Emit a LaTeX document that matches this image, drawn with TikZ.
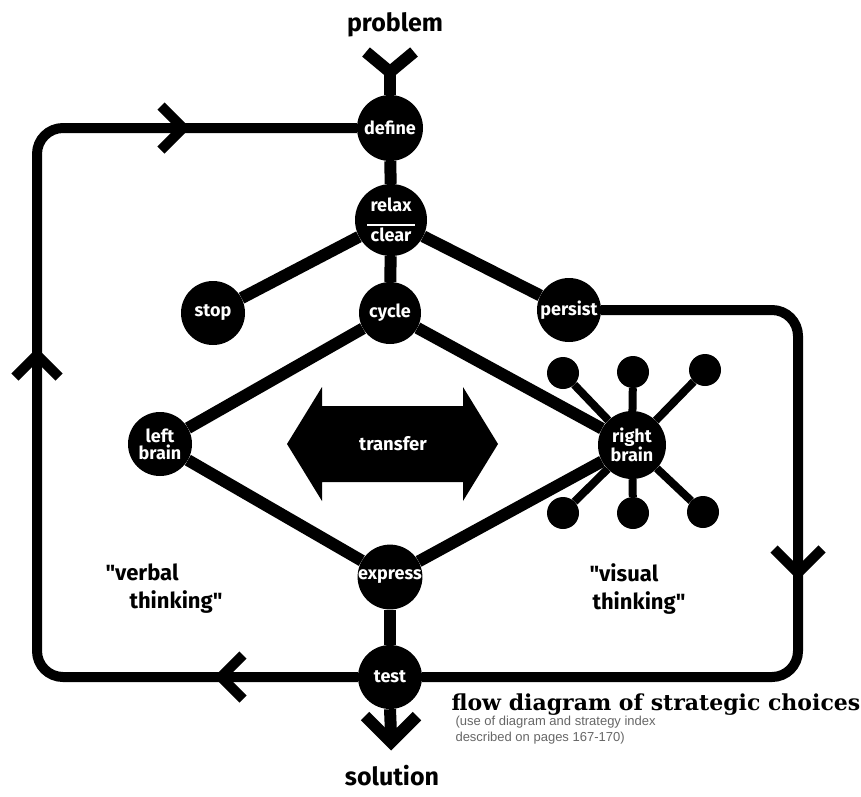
\documentclass[tikz,border=0pt]{standalone}
\usepackage{fontspec}
\setmainfont{Fira Sans}
\newfontfamily\capfont{DejaVu Serif}
\newfontfamily\notefont{Liberation Sans}
\usetikzlibrary{calc}
\begin{document}
\begin{tikzpicture}[x=1pt,y=-1pt,
  hub/.style={circle,fill=black,text=white,minimum size=#1,inner sep=0pt,
    font=\bfseries\fontsize{18}{17}\selectfont,align=center},
  hub/.default=62pt,
  dot/.style={circle,fill=black,minimum size=32pt,inner sep=0pt},
  link/.style={line width=12pt},
  spoke/.style={line width=8pt},
  loopline/.style={line width=10pt,rounded corners=26pt},
  chev/.style={line width=10pt,line cap=butt,line join=miter},
  bigtext/.style={font=\bfseries\fontsize{22}{28}\selectfont,align=left},
  endtext/.style={font=\bfseries\fontsize{25}{28}\selectfont},
]
\useasboundingbox (0,0) rectangle (861,796);

% flow nodes
\node[hub=66pt] (define) at (390,128) {define};
\node[hub=72pt] (relax) at (391,220) {relax\\[-3pt]\rule{48pt}{1.5pt}\\[-1pt]clear};
\node[hub=64pt] (stop) at (213,313) {stop};
\node[hub=62pt] (cycle) at (390,313) {cycle};
\node[hub=64pt] (persist) at (569,310) {persist};
\node[hub=64pt] (left) at (160,444) {left\\brain};
\node[hub=68pt] (right) at (632,445) {right\\brain};
\node[hub=64pt] (express) at (390,577) {express};
\node[hub=64pt] (test) at (390,677) {test};

% right-brain satellites
\node[dot] (d1) at (563,373) {};
\node[dot] (d2) at (633,372) {};
\node[dot] (d3) at (705,370) {};
\node[dot] (d4) at (563,513) {};
\node[dot] (d5) at (633,513) {};
\node[dot] (d6) at (703,512) {};

% outer loops
\draw[loopline] (define.west) -- (37,128) -- (37,677) -- (test.west);
\draw[loopline] (test.east) -- (798,677) -- (798,310) -- (persist.east);

% connectors
\draw[link] (define) -- (relax);
\draw[link] (relax) -- (cycle);
\draw[link] (relax) -- (stop);
\draw[link] (relax) -- (persist);
\draw[link] (cycle) -- (left);
\draw[link] (cycle) -- (right);
\draw[link] (left) -- (express);
\draw[link] (right) -- (express);
\draw[link] (express) -- (test);
\foreach \n in {d1,d2,d3,d4,d5,d6}{\draw[spoke] (right) -- (\n);}

% entry and exit
\node[endtext] (problem) at (395,25) {problem};
\coordinate (fork) at (390,72);
\draw[link] (define.north) -- (fork);
\draw[chev,line width=12pt] (fork) ++(-24,-20) -- (fork) -- ++(24,-20);
\node[endtext] (solution) at (392,776) {solution};
\coordinate (tip) at (391,742);
\draw[link] (test.south) -- ($(tip)+(0,-8)$);
\draw[chev,line width=12pt] (tip) ++(-26,-26) -- (tip) -- ++(26,-26);

% direction marks on the loops
\coordinate (m1) at (183,128);
\draw[chev] (m1) ++(-22,-22) -- (m1) -- ++(-22,22);
\coordinate (m2) at (37,355);
\draw[chev] (m2) ++(-22,22) -- (m2) -- ++(22,22);
\coordinate (m3) at (798,573);
\draw[chev] (m3) ++(-24,-24) -- (m3) -- ++(24,-24);
\coordinate (m4) at (221,677);
\draw[chev] (m4) ++(22,-22) -- (m4) -- ++(22,22);

% transfer arrow
\fill (287,444) -- (322,387) -- (322,406) -- (463,406) -- (463,387) -- (498,444)
  -- (463,501) -- (463,482) -- (322,482) -- (322,501) -- cycle;
\node[text=white,font=\bfseries\fontsize{18.5}{18}\selectfont] (transfer) at (393,444) {transfer};

% side labels
\node[bigtext,anchor=north west] (verbal) at (102,560) {\textquotedbl verbal\\\hspace*{24pt}thinking\textquotedbl};
\node[bigtext,anchor=north west] (visual) at (586,560) {\textquotedbl visual\\\hspace*{3pt}thinking\textquotedbl};

% caption
\node[anchor=west,font=\capfont\bfseries\fontsize{22}{24}\selectfont] (cap) at (448,705) {flow diagram of strategic choices};
\node[anchor=north west,align=left,text=black!60,font=\notefont\fontsize{13}{16}\selectfont] (note) at (452,713) {(use of diagram and strategy index\\described on pages 167-170)};
\end{tikzpicture}
\end{document}
